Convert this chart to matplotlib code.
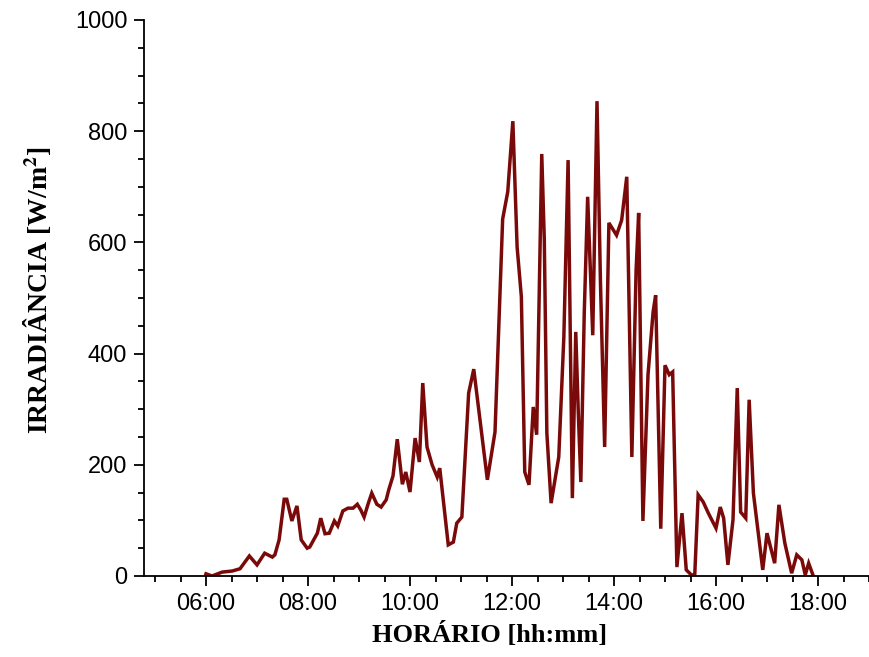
import numpy as np
import matplotlib
matplotlib.use("Agg")
import matplotlib.pyplot as plt
from matplotlib.ticker import MultipleLocator, FuncFormatter

# irradiance readings (time of day, W/m2)
horario = ["06:00", "06:07", "06:19", "06:31", "06:40", "06:51", "07:00", "07:09", "07:18", "07:21",
           "07:26", "07:32", "07:35", "07:41", "07:47", "07:52", "07:59", "08:02", "08:11", "08:15",
           "08:20", "08:25", "08:31", "08:35", "08:41", "08:47", "08:53", "08:58", "09:02", "09:06",
           "09:11", "09:15", "09:21", "09:26", "09:32", "09:35", "09:40", "09:45", "09:51", "09:55",
           "10:00", "10:06", "10:11", "10:15", "10:20", "10:26", "10:32", "10:35", "10:45", "10:51",
           "10:55", "11:01", "11:09", "11:15", "11:31", "11:40", "11:49", "11:55", "12:01", "12:06",
           "12:11", "12:15", "12:20", "12:25", "12:29", "12:35", "12:38", "12:41", "12:46", "12:55",
           "13:01", "13:06", "13:08", "13:11", "13:15", "13:18", "13:21", "13:25", "13:29", "13:35",
           "13:40", "13:44", "13:49", "13:54", "14:03", "14:09", "14:15", "14:21", "14:26", "14:29",
           "14:34", "14:40", "14:46", "14:49", "14:55", "15:00", "15:05", "15:09", "15:14", "15:20",
           "15:25", "15:31", "15:35", "15:39", "15:45", "15:51", "16:00", "16:05", "16:09", "16:14",
           "16:20", "16:25", "16:29", "16:35", "16:39", "16:44", "16:55", "17:00", "17:09", "17:14",
           "17:21", "17:29", "17:35", "17:41", "17:45", "17:49", "17:54"]
irradiancia = [4, 0, 7, 9, 13, 36, 20, 41, 34, 38,
               65, 138, 138, 99, 126, 65, 50, 52, 77, 104,
               76, 77, 99, 90, 117, 122, 122, 129, 119, 106,
               131, 149, 129, 124, 137, 155, 180, 246, 165, 187,
               151, 248, 205, 347, 232, 200, 178, 194, 56, 61,
               95, 106, 329, 372, 173, 259, 642, 691, 818, 592,
               502, 187, 164, 304, 254, 759, 604, 257, 131, 214,
               430, 748, 502, 140, 439, 293, 169, 473, 682, 433,
               854, 532, 232, 635, 613, 640, 718, 214, 550, 653,
               99, 362, 475, 505, 85, 379, 362, 367, 16, 113,
               11, 2, 2, 146, 133, 113, 86, 124, 104, 20,
               101, 338, 115, 104, 317, 149, 11, 77, 23, 128,
               59, 5, 38, 29, 2, 23, 2]


def to_hours(hhmm):
    h, m = hhmm.split(":")
    return int(h) + int(m) / 60.0


x = np.array([to_hours(t) for t in horario])
y = np.array(irradiancia)

plt.rcParams['mathtext.fontset'] = 'stix'

fig = plt.figure(figsize=(8.69, 6.57), dpi=100)
ax = fig.add_axes([0.1657, 0.1233, 0.8343, 0.8463])

ax.plot(x, y, color='#7a0a0a', linewidth=2.5, solid_joinstyle='miter')

ax.set_xlim(4.784, 19.0)
ax.set_ylim(0, 1000)

ax.xaxis.set_major_locator(MultipleLocator(2))
ax.xaxis.set_minor_locator(MultipleLocator(0.5))
ax.xaxis.set_major_formatter(FuncFormatter(lambda v, p: "%02d:00" % int(round(v))))
ax.yaxis.set_major_locator(MultipleLocator(200))
ax.yaxis.set_minor_locator(MultipleLocator(50))

for s in ['top', 'right']:
    ax.spines[s].set_visible(False)
for s in ['left', 'bottom']:
    ax.spines[s].set_linewidth(1.3)

ax.tick_params(which='major', direction='out', length=7, width=1.3,
               labelsize=17, pad=5)
ax.tick_params(which='minor', direction='out', length=4, width=1.3)
for lab in ax.get_xticklabels() + ax.get_yticklabels():
    lab.set_family('Liberation Sans')

ax.set_xlabel("HORÁRIO [hh:mm]", family='Liberation Serif', fontweight='bold', fontsize=19)
ax.set_ylabel(r"IRRADIÂNCIA [W/m$^\mathbf{2}$]", family='Liberation Serif', fontweight='bold', fontsize=20)
ax.xaxis.set_label_coords(0.477, -0.083)
ax.yaxis.set_label_coords(-0.125, 0.515)

fig.savefig("out.png", dpi=100)
